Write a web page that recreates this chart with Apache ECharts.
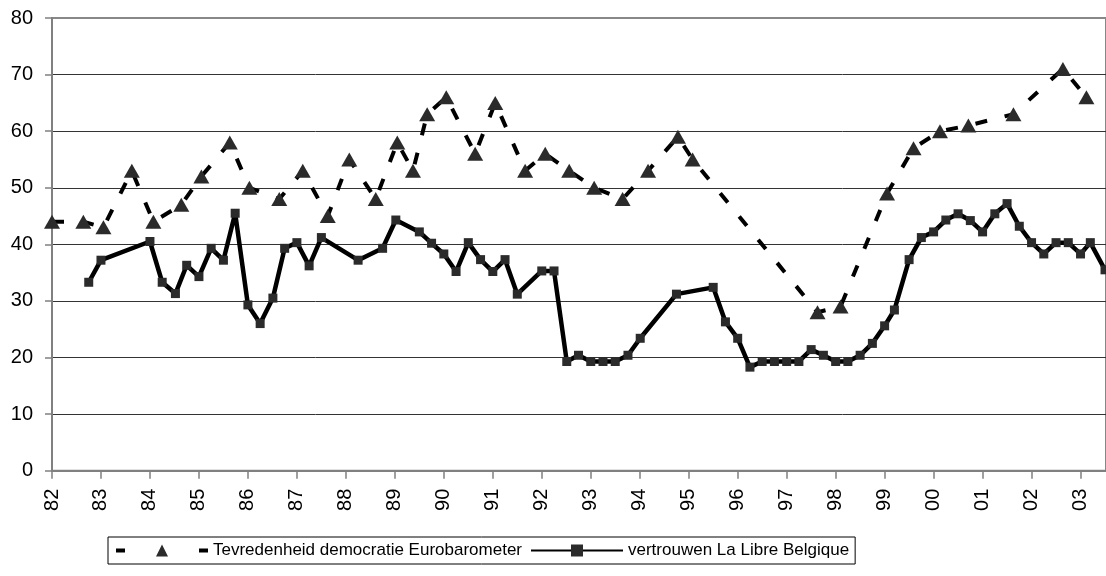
<!DOCTYPE html>
<html>
<head>
<meta charset="utf-8">
<script src="https://cdn.jsdelivr.net/npm/echarts@6/dist/echarts.min.js"></script>
<style>
html,body{margin:0;padding:0;background:#fff;}
#chart{width:1106px;height:576px;}
</style>
</head>
<body>
<div id="chart"></div>
<script>
// Tick labels (years) on the x axis
const tickYears = [1982,1983,1984,1985,1986,1987,1988,1989,1990,1991,1992,1993,1994,1995,1996,1997,1998,1999,2000,2001,2002,2003];

// Series 1: Tevredenheid democratie Eurobarometer (time in decimal years, value %)
const euroTimes = [1982.00,1982.64,1983.05,1983.63,1984.07,1984.64,1985.05,1985.63,1986.03,1986.64,1987.12,1987.63,1988.07,1988.61,1989.05,1989.37,1989.66,1990.05,1990.64,1991.05,1991.66,1992.07,1992.56,1993.07,1993.65,1994.17,1994.78,1995.08,1997.63,1998.10,1999.05,1999.59,2000.13,2000.71,2001.63,2002.64,2003.12];
const euroValues = [44,44,43,53,44,47,52,58,50,48,53,45,55,48,58,53,63,66,56,65,53,56,53,50,48,53,59,55,28,29,49,57,60,61,63,71,66];

// Series 2: vertrouwen La Libre Belgique
const libreTimes = [1982.75,1983.00,1984.00,1984.25,1984.52,1984.75,1985.00,1985.25,1985.50,1985.74,1986.00,1986.25,1986.51,1986.75,1987.00,1987.25,1987.50,1988.25,1988.75,1989.02,1989.50,1989.75,1990.00,1990.25,1990.50,1990.75,1991.00,1991.25,1991.50,1992.00,1992.25,1992.51,1992.75,1993.00,1993.25,1993.50,1993.76,1994.01,1994.75,1995.50,1995.75,1996.00,1996.25,1996.50,1996.75,1997.00,1997.25,1997.50,1997.75,1998.00,1998.25,1998.50,1998.75,1999.00,1999.20,1999.50,1999.75,2000.00,2000.25,2000.50,2000.75,2001.00,2001.25,2001.50,2001.75,2002.00,2002.25,2002.50,2002.75,2003.00,2003.20,2003.50];
const libreValues = [33.3,37.2,40.5,33.3,31.3,36.3,34.3,39.3,37.2,45.5,29.3,26.0,30.5,39.3,40.3,36.2,41.2,37.2,39.3,44.3,42.2,40.2,38.3,35.2,40.3,37.3,35.2,37.3,31.2,35.3,35.3,19.3,20.4,19.3,19.3,19.3,20.4,23.4,31.2,32.4,26.3,23.4,18.3,19.3,19.3,19.3,19.3,21.4,20.4,19.3,19.3,20.4,22.5,25.6,28.4,37.3,41.2,42.2,44.3,45.4,44.2,42.2,45.4,47.2,43.2,40.3,38.3,40.3,40.3,38.3,40.3,35.5];

const seriesNames = ['Tevredenheid democratie Eurobarometer','vertrouwen La Libre Belgique'];

const FONT = "'Liberation Sans', Arial, Helvetica, sans-serif";
const zip = (xs, ys) => xs.map((x, i) => [x, ys[i]]);

const chart = echarts.init(document.getElementById('chart'), null, {renderer: 'canvas'});
chart.setOption({
  animation: false,
  backgroundColor: '#ffffff',
  grid: {
    left: 52, top: 18, width: 1058, height: 452.7,
    show: true, borderColor: '#888888', borderWidth: 2, backgroundColor: 'transparent'
  },
  xAxis: {
    type: 'value',
    min: 1982, max: 2003.52, interval: 1,
    axisLine: {show: true, onZero: false, lineStyle: {color: '#808080', width: 2}},
    axisTick: {show: true, length: 8, customValues: tickYears, lineStyle: {color: '#808080', width: 1.5}},
    axisLabel: {
      customValues: tickYears,
      rotate: 90, margin: 18,
      fontSize: 20, color: '#000', fontFamily: FONT,
      formatter: v => String(Math.round(v)).slice(2)
    },
    splitLine: {show: false}
  },
  yAxis: {
    type: 'value',
    min: 0, max: 80, interval: 10,
    axisLine: {show: true, lineStyle: {color: '#808080', width: 2}},
    axisTick: {show: true, length: 7, lineStyle: {color: '#808080', width: 1.5}},
    axisLabel: {margin: 19, fontSize: 20, color: '#000', fontFamily: FONT},
    splitLine: {show: true, showMinLine: false, showMaxLine: false, lineStyle: {color: '#333333', width: 1}}
  },
  legend: {
    left: 108, top: 537,
    itemWidth: 92, itemHeight: 15, itemGap: 8,
    borderColor: '#000', borderWidth: 1, padding: [5, 6, 5, 6],
    textStyle: {fontSize: 17, color: '#000', fontFamily: FONT},
    data: [
      {name: seriesNames[0], lineStyle: {type: [9, 74], width: 4}},
      {name: seriesNames[1]}
    ]
  },
  series: [
    {
      name: seriesNames[0], type: 'line',
      data: zip(euroTimes, euroValues),
      symbol: 'triangle', symbolSize: [16, 14], showSymbol: true,
      lineStyle: {color: '#000', width: 4, type: [12, 18]},
      itemStyle: {color: '#2b2b2b', borderWidth: 0},
      z: 3
    },
    {
      name: seriesNames[1], type: 'line',
      data: zip(libreTimes, libreValues),
      symbol: 'rect', symbolSize: 9, showSymbol: true,
      lineStyle: {color: '#000', width: 4.5},
      itemStyle: {color: '#2b2b2b', borderWidth: 0},
      z: 2
    }
  ]
});
</script>
</body>
</html>
